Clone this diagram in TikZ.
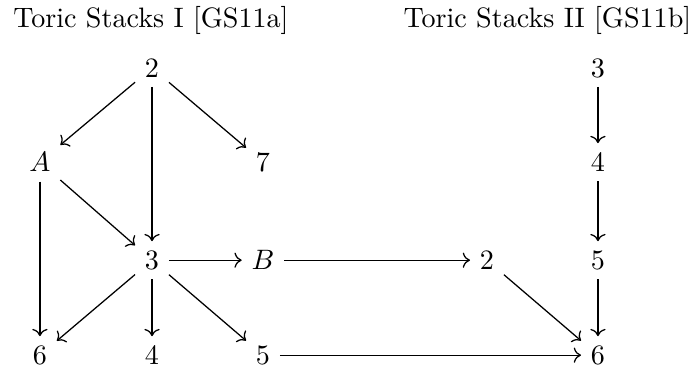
\documentclass[tikz,border=0pt]{standalone}
\usepackage{amsmath}
\usepackage{tikz}
\usetikzlibrary{arrows.meta}

\begin{document}
\begin{tikzpicture}[x=1pt,y=1pt,
        map/.style={-{Computer Modern Rightarrow},line width=0.45pt},
        title/.style={anchor=center}]

    \useasboundingbox (0,0) rectangle (247.7,131);

    \node[title] (titleI) at (53.7,123.8) {Toric Stacks I [GS11a]};
    \node[title] (titleII) at (194.8,123.8) {Toric Stacks II [GS11b]};

    % first paper
    \node (Itwo) at (54.1,106.8) {$2$};
    \node (IA) at (14.2,73.3) {$A$};
    \node (Iseven) at (93.6,73.3) {$7$};
    \node (Ithree) at (54.1,38.4) {$3$};
    \node (IB) at (93.6,38.4) {$B$};
    \node (Isix) at (14.2,4.6) {$6$};
    \node (Ifour) at (54.1,4.6) {$4$};
    \node (Ifive) at (93.6,4.6) {$5$};

    % second paper
    \node (IItwo) at (173.3,38.4) {$2$};
    \node (IIthree) at (212.8,106.8) {$3$};
    \node (IIfour) at (212.8,73.3) {$4$};
    \node (IIfive) at (212.8,38.4) {$5$};
    \node (IIsix) at (212.8,4.6) {$6$};

    \draw[map] (Itwo) -- (IA);
    \draw[map] (Itwo) -- (Iseven);
    \draw[map] (Itwo) -- (Ithree);
    \draw[map] (IA) -- (Ithree);
    \draw[map] (IA) -- (Isix);
    \draw[map] (Ithree) -- (Isix);
    \draw[map] (Ithree) -- (Ifour);
    \draw[map] (Ithree) -- (Ifive);
    \draw[map] (Ithree) -- (IB);
    \draw[map] (IB) -- (IItwo);
    \draw[map] (Ifive) -- (IIsix);
    \draw[map] (IItwo) -- (IIsix);
    \draw[map] (IIthree) -- (IIfour);
    \draw[map] (IIfour) -- (IIfive);
    \draw[map] (IIfive) -- (IIsix);
\end{tikzpicture}
\end{document}
